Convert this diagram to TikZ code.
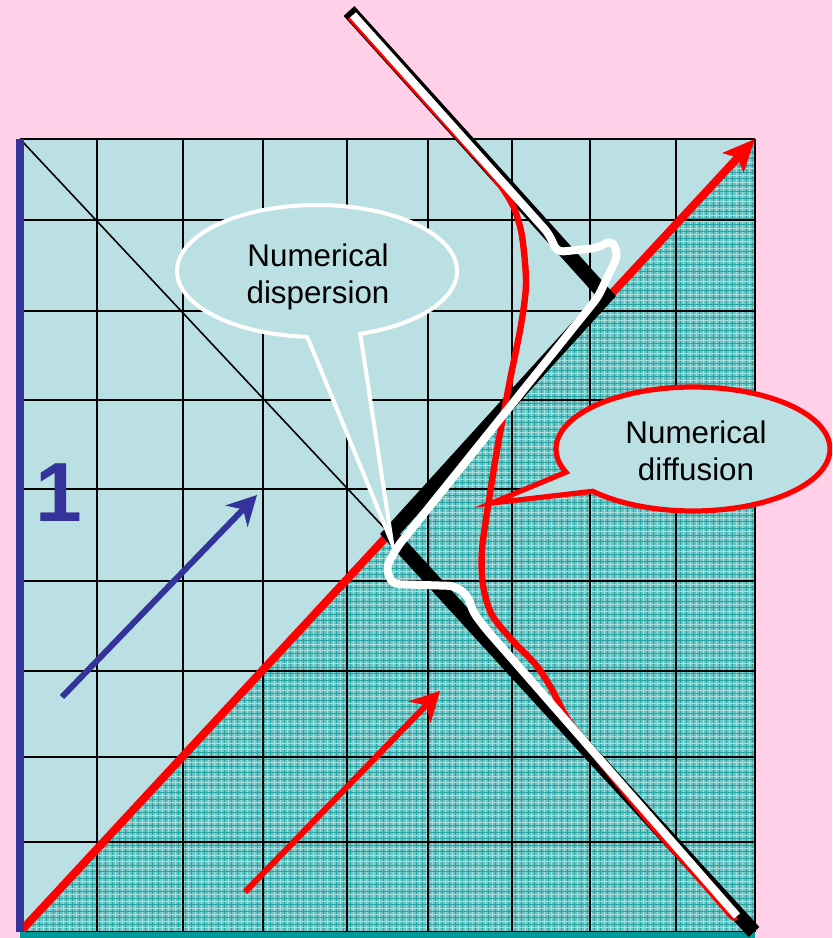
\documentclass[tikz,border=0pt]{standalone}
\usepackage{fontspec}
\setmainfont{Liberation Sans}
\usetikzlibrary{arrows.meta}
\definecolor{pinkbg}{HTML}{FFD0E8}
\definecolor{lightteal}{HTML}{BBE0E3}
\definecolor{texbase}{HTML}{6CC5C5}
\definecolor{texdark}{HTML}{2AA3A3}
\definecolor{texlight}{HTML}{A8DEDE}
\definecolor{navy}{HTML}{333399}
\definecolor{tealbar}{HTML}{009999}
\begin{document}
\begin{tikzpicture}[x=0.75pt,y=-0.75pt,
  gridline/.style={black, line width=1.6pt},
  bigarrow/.style={line width=4.5pt, -{Stealth[length=22pt,width=23pt,inset=7pt]}},
  calltext/.style={font=\fontsize{23.5}{27.5}\selectfont, align=center, inner sep=0pt, text=black}]
\useasboundingbox (0,0) rectangle (832,938);
\clip (0,0) rectangle (832,938);
\fill[pinkbg] (0,0) rectangle (832,938);
% square
\fill[lightteal] (20,139) rectangle (755,932);
% textured lower-right triangle
\begin{scope}
  \clip (20,932) -- (755,139) -- (755,932) -- cycle;
  \fill[texbase] (20,139) rectangle (755,932);
  \foreach \i in {0,...,112} {
    \pgfmathsetmacro\pa{20+6.6*\i}
    \pgfmathsetmacro\pb{23.3+6.6*\i}
    \draw[texdark, line width=0.7pt] (\pa,139) -- (\pa,932);
    \draw[texlight, line width=0.55pt] (\pb,139) -- (\pb,932);
  }
  \foreach \i in {0,...,121} {
    \pgfmathsetmacro\pa{139+6.6*\i}
    \pgfmathsetmacro\pb{142.3+6.6*\i}
    \draw[texdark, line width=0.7pt] (20,\pa) -- (755,\pa);
    \draw[texlight, line width=0.55pt] (20,\pb) -- (755,\pb);
  }
\end{scope}
% coarse grid
\foreach \x in {20,97,183,263,347,428,512,590,676,755}
  \draw[gridline] (\x,139) -- (\x,932);
\foreach \y in {139,220,311,400,489,581,671,757,842,932}
  \draw[gridline] (20,\y) -- (755,\y);
% named points
\coordinate (tl) at (20,139);
\coordinate (bl) at (20,932);
\coordinate (tr) at (755,139);
\coordinate (vtop) at (349,11);
\coordinate (vright) at (606,296);
\coordinate (vleft) at (390,534);
\coordinate (vend) at (754,932);
% thin diagonal
\draw[black, line width=1.2pt] (tl) -- (vleft);
% red diagonal with arrow
\draw[red, line width=6pt, -{Stealth[length=24pt,width=21pt,inset=5pt]}] (bl) -- (tr);
% bars
\fill[navy] (16,139) rectangle (24,932);
\fill[tealbar] (20,932) rectangle (755,938);
% label 1
\node[text=navy, font=\fontsize{63}{63}\selectfont\bfseries, inner sep=0pt] (one) at (59,493) {1};
% arrows
\coordinate (ba0) at (62,697);
\coordinate (ba1) at (257,495);
\coordinate (ra0) at (245,892);
\coordinate (ra1) at (440,691);
\draw[navy, bigarrow] (ba0) -- (ba1);
\draw[red, bigarrow] (ra0) -- (ra1);
% exact solution (black)
\draw[black, line width=11pt, line join=miter] (vtop) -- (vright) -- (vleft) -- (vend);
% numerical diffusion (red)
\draw[red, line width=4.8pt] plot[smooth, tension=0.5] coordinates {
  (350,17) (423,98) (472,152) (489,171) (503,189) (514,208) (522,236) (526,283)
  (521,325) (510,380) (497,450) (489,500) (482,550) (483,585) (492,615) (513,641)
  (536,665) (550,686) (560,705) (569,721) (600,761) (650,823) (690,868) (728.8,912.7) (733,918)};
% numerical dispersion (white)
\draw[white, line width=6pt, rounded corners=5pt] (353,15) -- (549,234) -- (557,252)
  -- (597,248) -- (612,240) -- (618,255) -- (598,297) -- (398,546) -- (386,567)
  -- (392,584) -- (455,586) -- (468,596) -- (473,612) -- (485,628) -- (737,916);
% callout: numerical dispersion
\draw[white, line width=3pt, fill=lightteal]
  plot[domain=94:432, samples=140, variable=\t] ({317+140*cos(\t)},{271+66*sin(\t)})
  -- (392,543) -- cycle;
\node[calltext] (disp) at (318,277) {Numerical\\dispersion};
% callout: numerical diffusion
\draw[red, line width=3.9pt, fill=lightteal]
  plot[domain=158:497, samples=140, variable=\t] ({693+137*cos(\t)},{449+62*sin(\t)})
  -- (492,503) -- cycle;
\node[calltext] (diff) at (696,451) {Numerical\\diffusion};
\end{tikzpicture}
\end{document}
